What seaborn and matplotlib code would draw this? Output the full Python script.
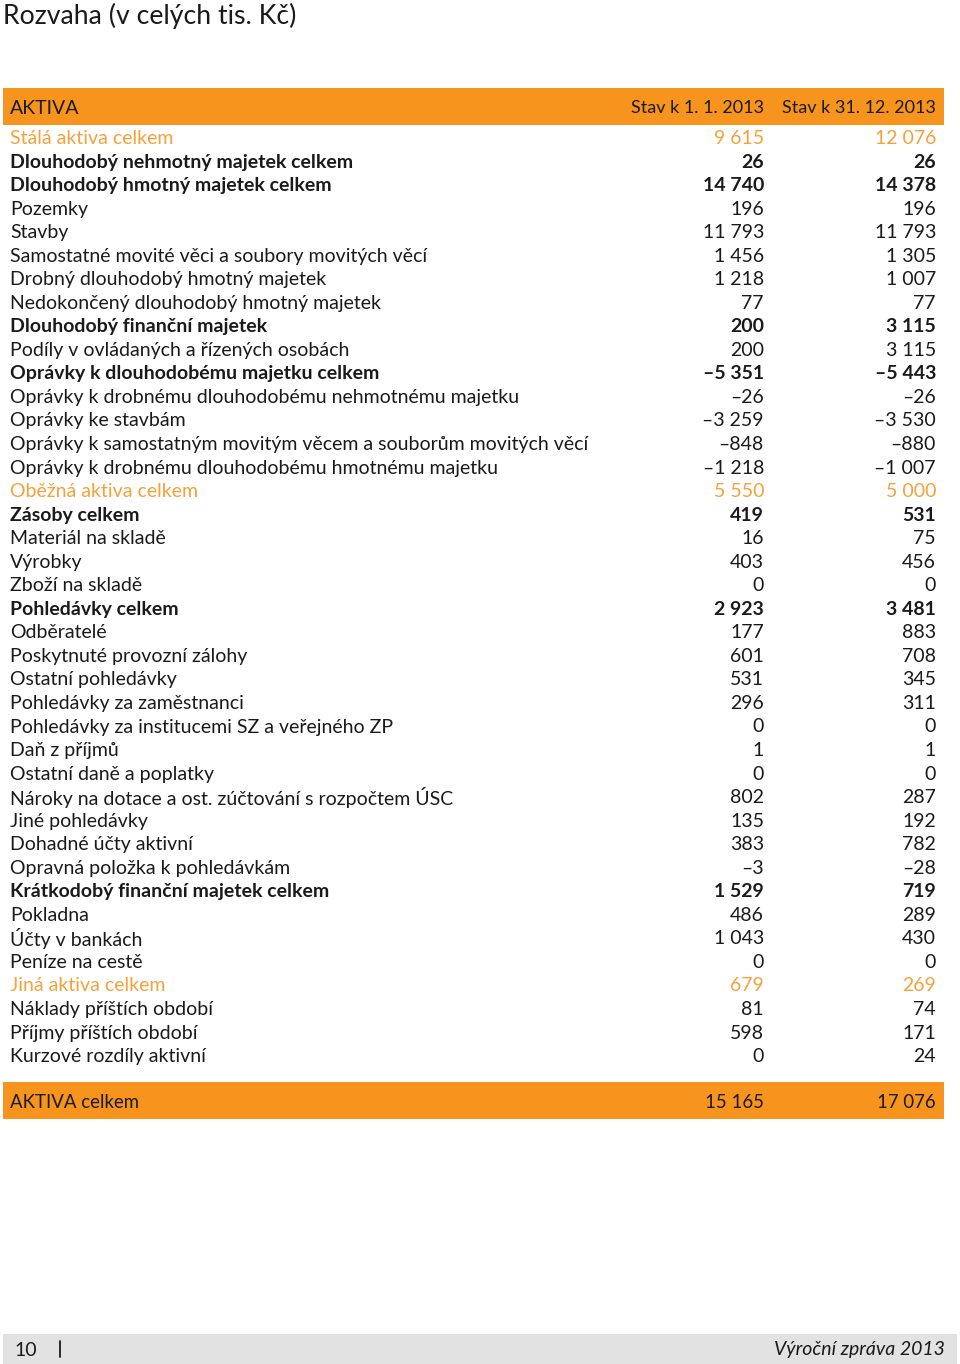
import matplotlib
matplotlib.use("Agg")
import matplotlib.pyplot as plt
import seaborn as sns

# data
title = "Rozvaha (v celých tis. Kč)"
columns = ["Stav k 1. 1. 2013", "Stav k 31. 12. 2013"]
labels = [
    "Stálá aktiva celkem",
    "Dlouhodobý nehmotný majetek celkem",
    "Dlouhodobý hmotný majetek celkem",
    "Pozemky",
    "Stavby",
    "Samostatné movité věci a soubory movitých věcí",
    "Drobný dlouhodobý hmotný majetek",
    "Nedokončený dlouhodobý hmotný majetek",
    "Dlouhodobý finanční majetek",
    "Podíly v ovládaných a řízených osobách",
    "Oprávky k dlouhodobému majetku celkem",
    "Oprávky k drobnému dlouhodobému nehmotnému majetku",
    "Oprávky ke stavbám",
    "Oprávky k samostatným movitým věcem a souborům movitých věcí",
    "Oprávky k drobnému dlouhodobému hmotnému majetku",
    "Oběžná aktiva celkem",
    "Zásoby celkem",
    "Materiál na skladě",
    "Výrobky",
    "Zboží na skladě",
    "Pohledávky celkem",
    "Odběratelé",
    "Poskytnuté provozní zálohy",
    "Ostatní pohledávky",
    "Pohledávky za zaměstnanci",
    "Pohledávky za institucemi SZ a veřejného ZP",
    "Daň z příjmů",
    "Ostatní daně a poplatky",
    "Nároky na dotace a ost. zúčtování s rozpočtem ÚSC",
    "Jiné pohledávky",
    "Dohadné účty aktivní",
    "Opravná položka k pohledávkám",
    "Krátkodobý finanční majetek celkem",
    "Pokladna",
    "Účty v bankách",
    "Peníze na cestě",
    "Jiná aktiva celkem",
    "Náklady příštích období",
    "Příjmy příštích období",
    "Kurzové rozdíly aktivní",
]
stav_2013_01 = [9615, 26, 14740, 196, 11793, 1456, 1218, 77, 200, 200,
                -5351, -26, -3259, -848, -1218,
                5550, 419, 16, 403, 0, 2923, 177, 601, 531, 296, 0, 1, 0,
                802, 135, 383, -3, 1529, 486, 1043, 0, 679, 81, 598, 0]
stav_2013_12 = [12076, 26, 14378, 196, 11793, 1305, 1007, 77, 3115, 3115,
                -5443, -26, -3530, -880, -1007,
                5000, 531, 75, 456, 0, 3481, 883, 708, 345, 311, 0, 1, 0,
                287, 192, 782, -28, 719, 289, 430, 0, 269, 74, 171, 24]
total_label = "AKTIVA celkem"
total_values = [15165, 17076]
bold_rows = ["Dlouhodobý nehmotný majetek celkem", "Dlouhodobý hmotný majetek celkem",
             "Dlouhodobý finanční majetek", "Oprávky k dlouhodobému majetku celkem",
             "Zásoby celkem", "Pohledávky celkem", "Krátkodobý finanční majetek celkem"]
orange_rows = ["Stálá aktiva celkem", "Oběžná aktiva celkem", "Jiná aktiva celkem"]

ORANGE = "#F7941D"
ORANGE_TXT = "#F6A13A"
TXT = "#1a1a1a"


def fmt(v):
    s = f"{abs(v):,}".replace(",", " ")
    return ("–" + s) if v < 0 else s


sns.set_theme(style="white")
plt.rcParams["font.family"] = ["Lato", "DejaVu Sans"]

fig = plt.figure(figsize=(9.6, 13.64), dpi=100)
ax = fig.add_axes([0, 0, 1, 1])
ax.set_xlim(0, 960)
ax.set_ylim(1364, 0)
ax.axis("off")

fs = 14
ax.text(3, 16, title, fontsize=19.2, va="center", ha="left", color=TXT)

# header band
ax.fill_between([3, 944], 88, 125, color=ORANGE, lw=0)
ax.text(10, 108, "AKTIVA", fontsize=fs, va="center", color=TXT)
ax.text(764, 108, columns[0], fontsize=13, va="center", ha="right", color=TXT)
ax.text(936, 108, columns[1], fontsize=13, va="center", ha="right", color=TXT)

y0, dy = 138.5, 23.54
for i, (lab, a, b) in enumerate(zip(labels, stav_2013_01, stav_2013_12)):
    y = y0 + i * dy
    color = ORANGE_TXT if lab in orange_rows else TXT
    weight = "bold" if lab in bold_rows else "normal"
    ax.text(10, y, lab, fontsize=fs, va="center", ha="left", color=color, fontweight=weight)
    ax.text(764, y, fmt(a), fontsize=fs, va="center", ha="right", color=color, fontweight=weight)
    ax.text(936, y, fmt(b), fontsize=fs, va="center", ha="right", color=color, fontweight=weight)

# total band
ax.fill_between([3, 944], 1082, 1119, color=ORANGE, lw=0)
ax.text(10, 1103, total_label, fontsize=13.4, va="center", color=TXT)
ax.text(764, 1103, fmt(total_values[0]), fontsize=13.4, va="center", ha="right", color=TXT)
ax.text(936, 1103, fmt(total_values[1]), fontsize=13.4, va="center", ha="right", color=TXT)

# page footer
ax.fill_between([3, 957], 1334, 1364, color="#E2E2E2", lw=0)
ax.text(14, 1350, "10", fontsize=fs, va="center", color=TXT)
ax.plot([60, 60], [1341, 1357], color=TXT, lw=1.3)
ax.text(945, 1350, "Výroční zpráva 2013", fontsize=fs, va="center", ha="right",
        color=TXT, style="italic")

fig.savefig("out.png", dpi=100)
